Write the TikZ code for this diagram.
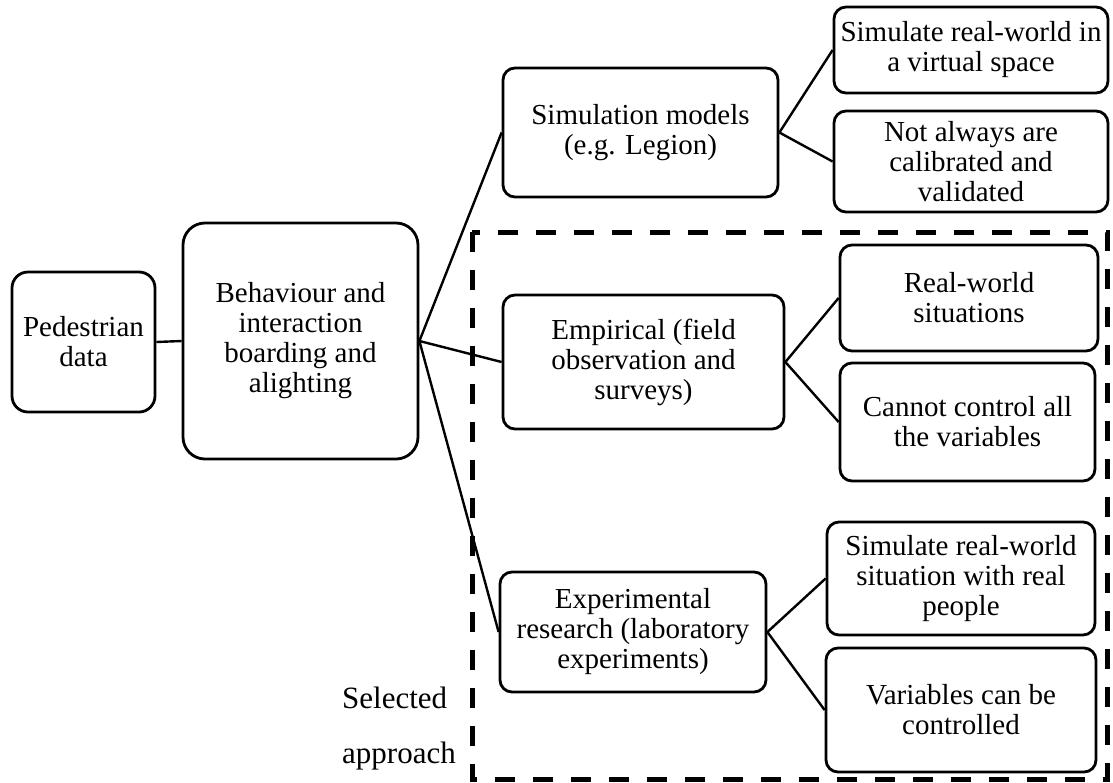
\documentclass[tikz,border=0pt]{standalone}
\usepackage{fontspec}
\setmainfont{Liberation Serif}
\begin{document}
\begin{tikzpicture}[x=1pt,y=-1pt,
  box/.style={draw, line width=2.8pt, rounded corners=12pt, inner sep=0pt,
    align=center, font={\fontsize{29}{30}\selectfont}},
  link/.style={line width=2.4pt},
  region/.style={line width=5pt, dash pattern=on 20pt off 18pt}]
\useasboundingbox (0,0) rectangle (1113,782);

% root and second level
\node[box, rounded corners=16pt, minimum width=143pt, minimum height=140pt] (ped) at (83.5,342) {Pedestrian\\data};
\node[box, rounded corners=22pt, minimum width=235pt, minimum height=236pt] (beh) at (300.5,341) {Behaviour and\\interaction\\boarding and\\alighting};

% approaches
\node[box, minimum width=275pt, minimum height=129pt] (sim) at (640.5,132.5) {Simulation models\\(e.g. Legion)};
\node[box, minimum width=281pt, minimum height=134pt] (emp) at (643.5,362) {Empirical (field\\observation and\\surveys)};
\node[box, minimum width=266pt, minimum height=120pt] (exp) at (633,632) {Experimental\\research (laboratory\\experiments)};

% properties of each approach
\node[box, minimum width=274pt, minimum height=86pt] (simA) at (971,50) {Simulate real-world in\\a virtual space};
\node[box, minimum width=274pt, minimum height=101pt] (simB) at (971,161.5) {Not always are\\calibrated and\\validated};
\node[box, minimum width=258pt, minimum height=106pt] (empA) at (969,298) {Real-world\\situations};
\node[box, minimum width=255pt, minimum height=118pt] (empB) at (967.5,422) {Cannot control all\\the variables};
\node[box, minimum width=268pt, minimum height=113pt] (expA) at (961,578.5) {Simulate real-world\\situation with real\\people};
\node[box, minimum width=270pt, minimum height=124pt] (expB) at (961,710) {Variables can be\\controlled};

% connectors
\draw[link] (ped.east) -- (beh.east -| beh.west);
\draw[link] (beh.east) -- (sim.west);
\draw[link] (beh.east) -- (emp.west);
\draw[link] (beh.east) -- (exp.west);
\draw[link] (sim.east) -- (simA.west);
\draw[link] (sim.east) -- (simB.west);
\draw[link] (emp.east) -- (empA.west);
\draw[link] (emp.east) -- (empB.west);
\draw[link] (exp.east) -- (expA.west);
\draw[link] (exp.east) -- (expB.west);

% selected approach frame and its caption
\draw[region] (472,232) rectangle (1107,779);
\node[anchor=base west, align=left, inner sep=0pt,
  font={\fontsize{31}{55}\selectfont}] (sel) at (342,763) {Selected\\approach};
\end{tikzpicture}
\end{document}
